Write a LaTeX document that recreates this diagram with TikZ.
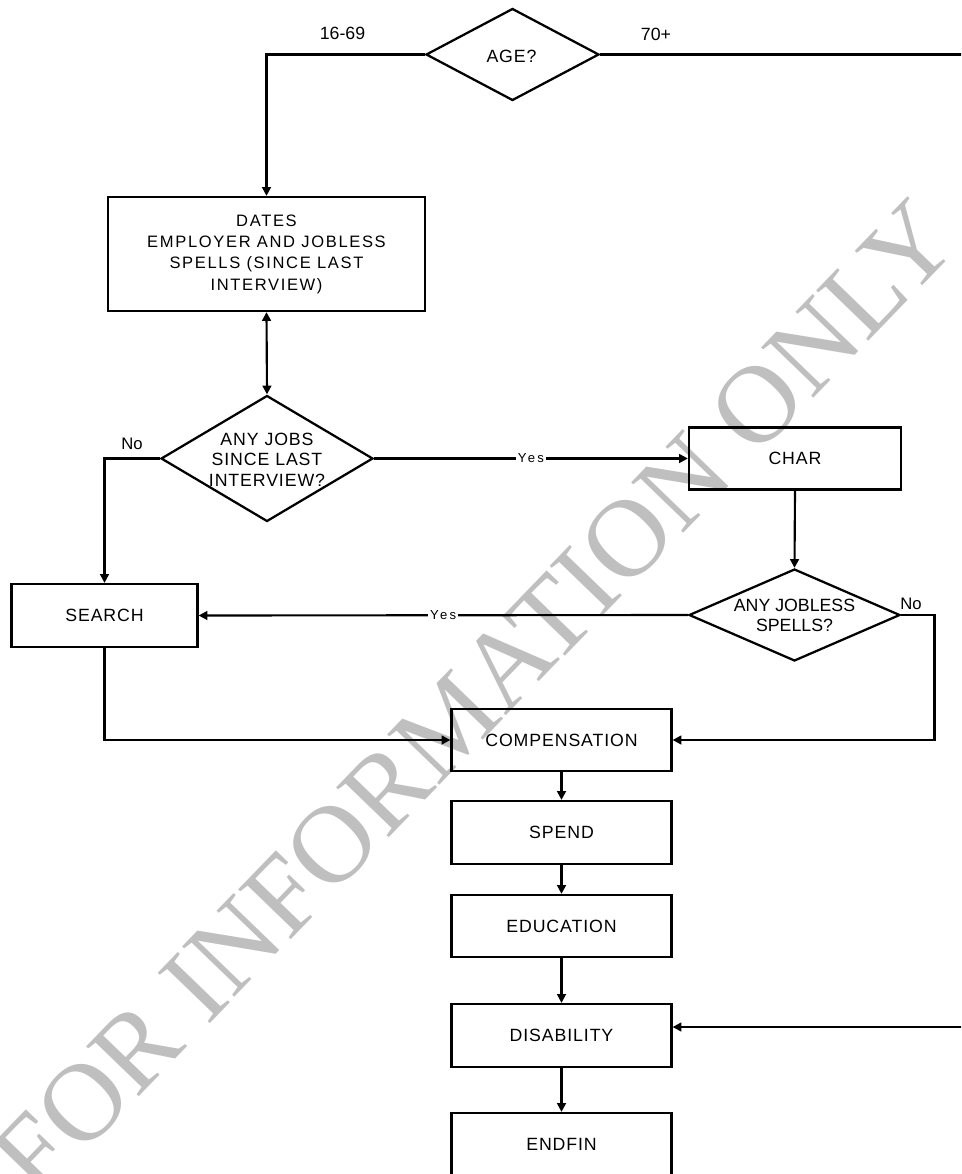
\documentclass[tikz,border=0pt]{standalone}
\usepackage{fontspec}
\setmainfont{Liberation Sans}
\newfontfamily\boxfont[LetterSpace=5]{Liberation Sans}
\newfontfamily\datesfont[LetterSpace=10]{Liberation Sans}
\newfontfamily\yesfont[LetterSpace=18]{Liberation Sans}
\newfontfamily\wmfont{Liberation Serif}
\usetikzlibrary{shapes.geometric,arrows.meta}
\begin{document}
\begin{tikzpicture}[x=0.75pt,y=-0.75pt,
  box/.style={draw, line width=1.7pt, rectangle, inner sep=0pt,
    minimum width=165pt, minimum height=46.5pt,
    font=\boxfont\fontsize{13.3}{16}\selectfont},
  dia/.style={draw, diamond, line width=1.7pt, inner sep=0pt},
  diatext/.style={align=center, inner sep=0pt},
  arr/.style={line width=1.6pt, -{Triangle[length=6.5pt,width=6.5pt]}},
  darr/.style={line width=1.6pt, {Triangle[length=6.5pt,width=6.5pt]}-{Triangle[length=6.5pt,width=6.5pt]}},
  plain/.style={line width=1.6pt},
  lbl/.style={inner sep=0pt, font=\fontsize{12.5}{15}\selectfont},
  yeslbl/.style={fill=white, inner sep=1.5pt, font=\yesfont\fontsize{9.8}{11}\selectfont},
  wm/.style={text=black!25, font=\wmfont\fontsize{83}{90}\selectfont, rotate=46, inner sep=0pt}
]
\useasboundingbox (0,0) rectangle (961,1174);
\clip (0,0) rectangle (961,1174);

% watermark
\node[wm] (wmark) at (474,698) {FOR INFORMATION ONLY};

% nodes
\node[dia, minimum width=129.75pt, minimum height=69pt] (age) at (512.5,54.5) {};
\node[diatext, font=\boxfont\fontsize{13.3}{16}\selectfont] (aget) at (511.5,56) {AGE?};

\node[box, minimum width=237.75pt, minimum height=85.5pt,
  font=\datesfont\fontsize{12.4}{16}\selectfont, align=center] (dates) at (266.5,254)
  {DATES\\EMPLOYER AND JOBLESS\\SPELLS (SINCE LAST\\INTERVIEW)};

\node[dia, minimum width=159pt, minimum height=94.5pt] (jobs) at (267,458.5) {};
\node[diatext, font=\boxfont\fontsize{13.3}{15.4}\selectfont] (jobst) at (267,459.5)
  {ANY JOBS\\SINCE LAST\\INTERVIEW?};

\node[box, minimum width=159pt, minimum height=46.5pt] (char) at (795,458.5) {CHAR};

\node[dia, minimum width=158.25pt, minimum height=69pt] (jobless) at (794.5,615) {};
\node[diatext, font=\fontsize{13.3}{15}\selectfont] (joblesst) at (794.5,615.5)
  {ANY JOBLESS\\SPELLS?};

\node[box, minimum width=139.5pt, minimum height=47.25pt] (search) at (104.5,615.5) {SEARCH};

\node[box] (comp) at (561.5,740) {COMPENSATION};
\node[box, minimum height=47.25pt] (spend) at (561.5,832.5) {SPEND};
\node[box] (edu) at (561.5,926) {EDUCATION};
\node[box, minimum height=47.25pt] (dis) at (561.5,1035.5) {DISABILITY};
\node[box] (endfin) at (561.5,1144) {ENDFIN};

% labels
\node[lbl, font=\fontsize{13.3}{16}\selectfont] (l1669) at (342.5,33) {16-69};
\node[lbl, font=\fontsize{13.3}{16}\selectfont] (l70) at (656,34) {70+};
\node[lbl] (lno1) at (132,443.5) {No};
\node[lbl] (lno2) at (911,603.5) {No};

% helper coordinates
\coordinate (outtop) at (965,54.5);
\coordinate (outdis) at (965,1027);
\coordinate (jr) at (934.5,615);

% connectors
\draw[arr] (age.west) -| (dates.north);
\draw[plain] (age.east) -- (outtop);
\draw[darr] (dates.south) -- (jobs.north);
\draw[arr] (jobs.west) -| (search.north);
\draw[arr] (jobs.east) -- node[yeslbl] {Yes} (char.west);
\draw[arr] (char.south) -- (jobless.north);
\draw[arr] (jobless.west) -- node[yeslbl] {Yes} (search.east);
\draw[arr] (jobless.east) -- (jr) |- (comp.east);
\draw[arr] (search.south) |- (comp.west);
\draw[arr] (comp.south) -- (spend.north);
\draw[arr] (spend.south) -- (edu.north);
\draw[arr] (edu.south) -- (dis.north);
\draw[arr] (dis.south) -- (endfin.north);
\draw[arr] (outdis) -- (outdis -| dis.east);
\end{tikzpicture}
\end{document}
